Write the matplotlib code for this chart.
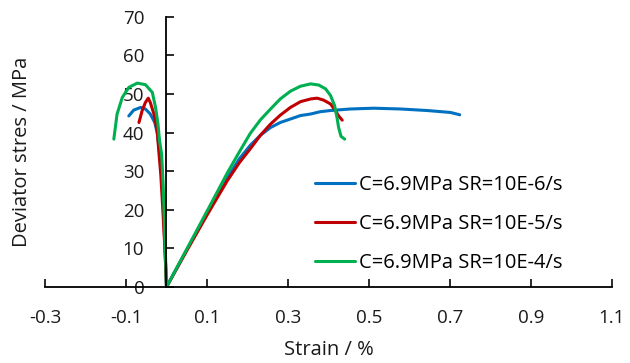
import matplotlib
matplotlib.use("Agg")
import matplotlib.pyplot as plt

plt.rcParams['font.family'] = ['Open Sans', 'DejaVu Sans']

# strain (%) and deviator stress (MPa): post-peak branch first, then the loading branch from 0
strain_6 = [-0.093, -0.081, -0.064, -0.052, -0.040, -0.029, -0.023, -0.017, -0.012, -0.008, -0.004, 0.0,
            0.05, 0.10, 0.15, 0.18, 0.207, 0.232, 0.257, 0.281, 0.306, 0.331, 0.356, 0.380, 0.405,
            0.454, 0.512, 0.578, 0.644, 0.701, 0.724]
stress_6 = [44.3, 45.8, 46.5, 46.1, 44.8, 42.6, 40.0, 35.0, 29.0, 21.0, 11.0, 0.0,
            9.6, 19.0, 28.2, 33.2, 36.7, 39.3, 41.3, 42.6, 43.5, 44.4, 44.8, 45.4, 45.7,
            46.1, 46.3, 46.1, 45.7, 45.2, 44.6]

strain_5 = [-0.068, -0.060, -0.052, -0.045, -0.040, -0.031, -0.023, -0.019, -0.014, -0.009, -0.004, 0.0,
            0.05, 0.10, 0.15, 0.18, 0.207, 0.232, 0.257, 0.281, 0.306, 0.331, 0.356, 0.372, 0.388,
            0.405, 0.417, 0.425, 0.434]
stress_5 = [42.6, 45.7, 47.8, 48.9, 47.8, 44.8, 40.4, 35.2, 29.0, 20.0, 10.0, 0.0,
            9.4, 18.6, 27.5, 32.2, 35.8, 39.3, 42.2, 44.5, 46.5, 48.0, 48.7, 48.9, 48.4,
            47.4, 45.7, 44.3, 43.2]

strain_4 = [-0.130, -0.122, -0.109, -0.093, -0.072, -0.052, -0.035, -0.027, -0.021, -0.017, -0.012,
            -0.008, -0.004, 0.0,
            0.05, 0.10, 0.15, 0.18, 0.207, 0.232, 0.257, 0.281, 0.306, 0.331, 0.356, 0.376, 0.393,
            0.405, 0.415, 0.421, 0.425, 0.431, 0.440]
stress_4 = [38.3, 44.8, 49.1, 51.7, 52.8, 52.4, 50.4, 46.5, 42.2, 37.8, 34.4,
            26.0, 13.0, 0.0,
            9.8, 19.6, 29.5, 35.0, 39.8, 43.3, 46.1, 48.7, 50.7, 52.0, 52.6, 52.3, 51.3,
            49.6, 47.0, 43.9, 41.3, 39.0, 38.3]

labels = ['C=6.9MPa SR=10E-6/s', 'C=6.9MPa SR=10E-5/s', 'C=6.9MPa SR=10E-4/s']
colors = ['#0070C0', '#C00000', '#00B050']

x_ticks = [-0.3, -0.1, 0.1, 0.3, 0.5, 0.7, 0.9, 1.1]
y_ticks = [0, 10, 20, 30, 40, 50, 60, 70]

fig = plt.figure(figsize=(6.3, 3.63), dpi=100)
ax = fig.add_axes([0.0714, 0.2094, 0.900, 0.7446])

series = [(strain_6, stress_6), (strain_5, stress_5), (strain_4, stress_4)]
for (x, y), lab, c in zip(series, labels, colors):
    ax.plot(x, y, color=c, lw=2.2, label=lab, solid_capstyle='round', solid_joinstyle='round')

ax.set_xlim(-0.3, 1.1)
ax.set_ylim(0, 70)
ax.set_xticks(x_ticks)
ax.set_xticklabels([f'{v:.1f}' for v in x_ticks])
ax.set_yticks(y_ticks)

ax.spines['left'].set_position(('data', 0))
ax.spines['top'].set_visible(False)
ax.spines['right'].set_visible(False)
for s in ('left', 'bottom'):
    ax.spines[s].set_linewidth(1.3)
ax.tick_params(axis='both', direction='in', length=6, width=1.3, labelsize=13.5, colors='#1a1a1a')
ax.tick_params(axis='y', pad=16)
ax.tick_params(axis='x', pad=16)

ax.set_xlabel('Strain / %', fontsize=14.5, color='#1a1a1a')
ax.set_ylabel('Deviator stres / MPa', fontsize=14.5, color='#1a1a1a')
ax.xaxis.set_label_coords(0.5, -0.195)
ax.yaxis.set_label_coords(-0.023, 0.5)

ax.legend(loc='upper left', bbox_to_anchor=(0.476, 0.414), frameon=False,
          fontsize=14.5, handlelength=2.0, handletextpad=0.2,
          labelspacing=0.95, borderpad=0, borderaxespad=0)

fig.savefig('out.png', dpi=100)
